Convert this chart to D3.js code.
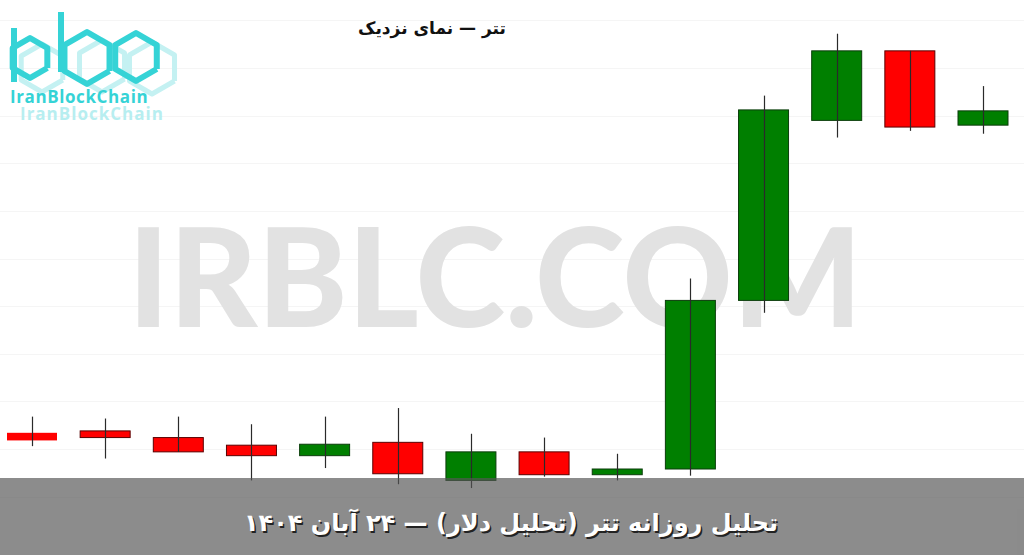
<!DOCTYPE html>
<html>
<head>
<meta charset="utf-8">
<script src="https://cdn.jsdelivr.net/npm/d3@7"></script>
<style>
  html, body { margin: 0; padding: 0; background: #fff; }
  svg { display: block; }
</style>
</head>
<body>
<div class="chart"></div>
<script>
// daily candles, Aban 1404 (toman)
const days = ['11', '12', '13', '14', '15', '16', '17', '18', '19', '20', '21', '22', '23', '24'];
const opens = [112670, 112690, 112620, 112540, 112430, 112570, 112170, 112470, 112230, 112290, 114060, 115950, 116680, 115900];
const highs = [112840, 112820, 112840, 112760, 112840, 112930, 112660, 112620, 112450, 114290, 116210, 116860, 116680, 116310];
const lows = [112530, 112400, 112470, 112170, 112300, 112130, 112090, 112210, 112170, 112220, 113930, 115770, 115840, 115810];
const closes = [112590, 112620, 112470, 112430, 112550, 112240, 112470, 112230, 112290, 114060, 116060, 116680, 115880, 116050];
const gridTicks = [112000, 112500, 113000, 113500, 114000, 114500, 115000, 115500, 116000, 116500, 117000];

const titleText = 'تتر — نمای نزدیک';
const bannerText = 'تحلیل روزانه تتر (تحلیل دلار) — ۲۴ آبان ۱۴۰۴';

const candles = days.map((d, i) => ({
  day: d, open: opens[i], high: highs[i], low: lows[i], close: closes[i],
}));

const width = 1024;
const height = 555;
const svg = d3
  .select('.chart')
  .append('svg')
  .attr('width', width)
  .attr('height', height);

const xScale = d3.scalePoint().domain(days).range([32, 983]);
const yScale = d3.scaleLinear().domain([112500, 116500]).range([449, 68]);
const bodyWidth = 50;

// faint grid
svg
  .append('g')
  .selectAll('line')
  .data(gridTicks)
  .enter()
  .append('line')
  .attr('x1', 0)
  .attr('x2', width)
  .attr('y1', d => Math.round(yScale(d)) + 0.5)
  .attr('y2', d => Math.round(yScale(d)) + 0.5)
  .attr('stroke', '#f5f5f5')
  .attr('stroke-width', 1);

// watermark
svg
  .append('text')
  .text('IRBLC.COM')
  .attr('x', 128)
  .attr('y', 327)
  .attr('textLength', 734)
  .attr('lengthAdjust', 'spacingAndGlyphs')
  .style('font-family', 'Lato, "Open Sans", sans-serif')
  .style('font-weight', 900)
  .style('font-size', '138px')
  .attr('fill', '#e2e2e2');

// logo
const logo = svg.append('g').attr('fill', 'none').attr('stroke-linejoin', 'round');
const hex = (cx, cy, r) =>
  d3.range(7).map(k => {
    const a = (Math.PI / 3) * k + Math.PI / 6;
    return [cx + r * Math.cos(a), cy + r * Math.sin(a)];
  });
[[42, 68, 24], [102, 66, 26], [152, 68, 26], [30, 58, 20], [87, 58, 26], [136, 57, 24]].forEach((h, i) => {
  logo
    .append('path')
    .attr('d', d3.line()(hex(h[0], h[1], h[2])))
    .attr('stroke', i < 3 ? '#c4f1f2' : '#35d3d6')
    .attr('stroke-width', i < 3 ? 5 : 6);
});
logo.append('line').attr('x1', 14).attr('x2', 14).attr('y1', 28).attr('y2', 82).attr('stroke', '#35d3d6').attr('stroke-width', 6);
logo.append('line').attr('x1', 61).attr('x2', 61).attr('y1', 12).attr('y2', 72).attr('stroke', '#35d3d6').attr('stroke-width', 6);
svg
  .append('text')
  .text('IranBlockChain')
  .attr('x', 20)
  .attr('y', 120)
  .style('font-family', '"Open Sans", sans-serif')
  .style('font-weight', 700)
  .style('font-size', '17px')
  .style('letter-spacing', '1px')
  .attr('fill', '#b7eef0');
svg
  .append('text')
  .text('IranBlockChain')
  .attr('x', 10)
  .attr('y', 103)
  .style('font-family', '"Open Sans", sans-serif')
  .style('font-weight', 700)
  .style('font-size', '17px')
  .style('letter-spacing', '0.6px')
  .attr('fill', '#35d3d6');

// title
svg
  .append('text')
  .text(titleText)
  .attr('x', 432)
  .attr('y', 34)
  .attr('text-anchor', 'middle')
  .attr('direction', 'rtl')
  .style('font-family', '"DejaVu Sans", sans-serif')
  .style('font-weight', 700)
  .style('font-size', '17px')
  .attr('fill', '#111');

// candles
const g = svg.append('g');
const up = d => d.close >= d.open;

g.selectAll('rect.body')
  .data(candles)
  .enter()
  .append('rect')
  .attr('class', 'body')
  .attr('x', d => xScale(d.day) - bodyWidth / 2)
  .attr('y', d => yScale(Math.max(d.open, d.close)))
  .attr('width', bodyWidth)
  .attr('height', d => Math.max(1, Math.abs(yScale(d.open) - yScale(d.close))))
  .attr('fill', d => (up(d) ? '#007f00' : '#ff0000'))
  .attr('stroke', d => (up(d) ? '#0b3d0b' : '#5a0000'))
  .attr('stroke-width', (d, i) => (i === 0 ? 0 : 1));

g.selectAll('line.wick')
  .data(candles)
  .enter()
  .append('line')
  .attr('class', 'wick')
  .attr('x1', d => Math.round(xScale(d.day)) + 0.5)
  .attr('x2', d => Math.round(xScale(d.day)) + 0.5)
  .attr('y1', d => yScale(d.high))
  .attr('y2', d => yScale(d.low))
  .attr('stroke', '#2a2a2a')
  .attr('stroke-width', 1.2);

// bottom banner
svg
  .append('rect')
  .attr('x', 0)
  .attr('y', 478)
  .attr('width', width)
  .attr('height', height - 478)
  .attr('fill', '#555')
  .attr('fill-opacity', 0.68);

[['#222', 'translate(1.5,1.5)'], ['#fff', null]].forEach(([fill, tr]) => {
  svg
    .append('text')
    .text(bannerText)
    .attr('x', 511)
    .attr('y', 531)
    .attr('text-anchor', 'middle')
    .attr('direction', 'rtl')
    .attr('transform', tr)
    .style('font-family', '"DejaVu Sans", sans-serif')
    .style('font-weight', 700)
    .style('font-size', '24px')
    .attr('fill', fill);
});
</script>
</body>
</html>
